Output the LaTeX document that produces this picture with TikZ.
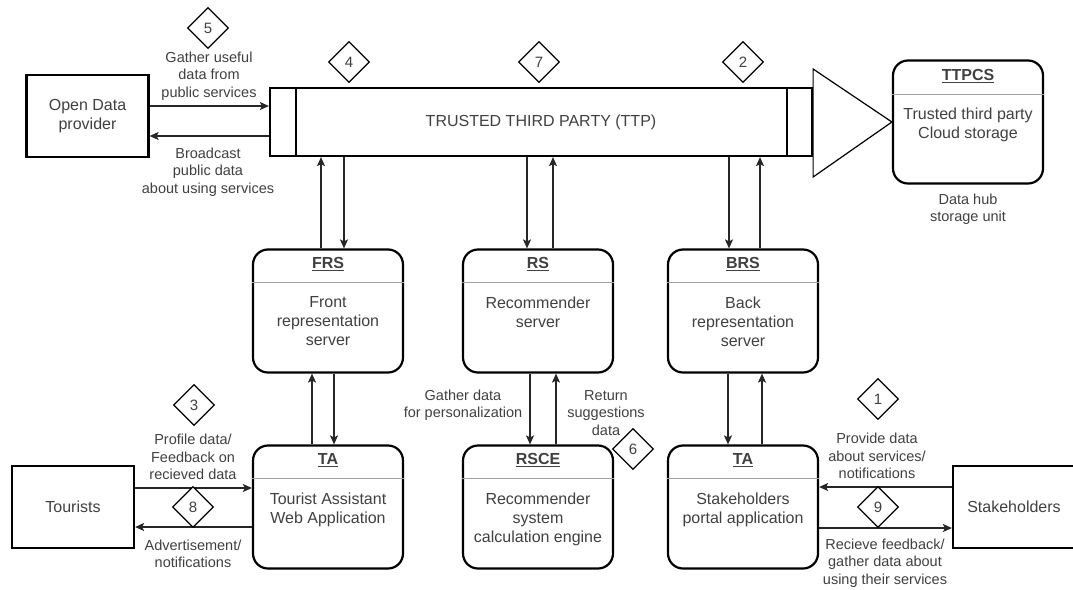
\documentclass[tikz,border=0pt]{standalone}
\usepackage{fontspec}
\setmainfont{Liberation Sans}
\usetikzlibrary{shapes,arrows.meta,positioning}
\definecolor{txtgray}{HTML}{404040}
\definecolor{sepgray}{HTML}{A0A0A0}

\begin{document}
\begin{tikzpicture}[x=1pt,y=-1pt,
  srv/.style={draw,line width=2.2pt,rounded corners=15pt,minimum width=150pt,minimum height=123pt,inner sep=0pt},
  ent/.style={draw,line width=2.2pt,minimum width=122pt,minimum height=82pt,align=center,text=txtgray,font=\fontsize{16}{19}\selectfont},
  ttl/.style={inner sep=0pt,text=txtgray,font=\fontsize{16}{19}\selectfont\bfseries},
  body/.style={anchor=north,inner sep=0pt,align=center,text=txtgray,font=\fontsize{16}{19}\selectfont},
  lbl/.style={inner sep=0pt,align=center,text=txtgray,font=\fontsize{14.5}{17.5}\selectfont},
  num/.style={draw,fill=white,diamond,aspect=1,minimum size=41pt,inner sep=0pt,line width=1.2pt,text=txtgray,font=\fontsize{15}{18}\selectfont},
  flow/.style={-{Stealth[length=9pt,width=8pt,inset=2pt]},line width=1.2pt,draw=black!85},
  sep/.style={draw=sepgray,line width=1pt}]

    \useasboundingbox (0,0) rectangle (1073,589);

    \node[draw,line width=2.2pt,minimum width=542pt,minimum height=68pt,text=txtgray,font=\fontsize{16}{19}\selectfont] (ttp) at (541,122) {TRUSTED THIRD PARTY (TTP)};
    \draw[line width=2.2pt] (296,0 |- ttp.north) -- (296,0 |- ttp.south);
    \draw[line width=2.2pt] (787,0 |- ttp.north) -- (787,0 |- ttp.south);

    \node[srv] (ttpcs) at (968,122) {};
    \node[ttl] at ([yshift=-17pt]ttpcs.north) {\underline{TTPCS}};
    \draw[sep] ([yshift=-35pt]ttpcs.north west) -- ([yshift=-35pt]ttpcs.north east);
    \node[body] (ttpcsb) at ([yshift=-48pt]ttpcs.north) {Trusted third party\\Cloud storage};
    \node[lbl] (hub) at (968,209) {Data hub\\storage unit};

    \draw[line width=1.2pt] (ttp.east |- 0,69) -- (ttpcs.west) -- (ttp.east |- 0,177) -- cycle;

    \node[ent] (odp) at (87.5,116) {Open Data\\provider};
    \node[ent] (tour) at (73,507) {Tourists};
    \node[ent] (stake) at (1014,507) {Stakeholders};

    \node[srv] (frs) at (328,311) {};
    \node[ttl] at ([yshift=-16pt]frs.north) {\underline{FRS}};
    \draw[sep] ([yshift=-34pt]frs.north west) -- ([yshift=-34pt]frs.north east);
    \node[body] (frsb) at ([yshift=-48pt]frs.north) {Front\\representation\\server};

    \node[srv] (rs) at (538,311) {};
    \node[ttl] at ([yshift=-16pt]rs.north) {\underline{RS}};
    \draw[sep] ([yshift=-34pt]rs.north west) -- ([yshift=-34pt]rs.north east);
    \node[body] (rsb) at ([yshift=-48pt]rs.north) {Recommender\\server};

    \node[srv] (brs) at (743,311) {};
    \node[ttl] at ([yshift=-16pt]brs.north) {\underline{BRS}};
    \draw[sep] ([yshift=-34pt]brs.north west) -- ([yshift=-34pt]brs.north east);
    \node[body] (brsb) at ([yshift=-48pt]brs.north) {Back\\representation\\server};

    \node[srv] (ta1) at (328,507) {};
    \node[ttl] at ([yshift=-16pt]ta1.north) {\underline{TA}};
    \draw[sep] ([yshift=-34pt]ta1.north west) -- ([yshift=-34pt]ta1.north east);
    \node[body] (ta1b) at ([yshift=-48pt]ta1.north) {Tourist Assistant\\Web Application};

    \node[srv] (rsce) at (538,507) {};
    \node[ttl] at ([yshift=-16pt]rsce.north) {\underline{RSCE}};
    \draw[sep] ([yshift=-34pt]rsce.north west) -- ([yshift=-34pt]rsce.north east);
    \node[body] (rsceb) at ([yshift=-48pt]rsce.north) {Recommender\\system\\calculation engine};

    \node[srv] (ta2) at (743,507) {};
    \node[ttl] at ([yshift=-16pt]ta2.north) {\underline{TA}};
    \draw[sep] ([yshift=-34pt]ta2.north west) -- ([yshift=-34pt]ta2.north east);
    \node[body] (ta2b) at ([yshift=-48pt]ta2.north) {Stakeholders\\portal application};

    \draw[flow] (odp.east |- 0,106) -- (ttp.west |- 0,106);
    \draw[flow] (ttp.west |- 0,136) -- (odp.east |- 0,136);
    \draw[flow] (tour.east |- 0,488) -- (ta1.west |- 0,488);
    \draw[flow] (ta1.west |- 0,527) -- (tour.east |- 0,527);
    \draw[flow] (stake.west |- 0,487) -- (ta2.east |- 0,487);
    \draw[flow] (ta2.east |- 0,528) -- (stake.west |- 0,528);

    \draw[flow] (321,0 |- frs.north) -- (321,0 |- ttp.south);
    \draw[flow] (344,0 |- ttp.south) -- (344,0 |- frs.north);
    \draw[flow] (527,0 |- ttp.south) -- (527,0 |- rs.north);
    \draw[flow] (553,0 |- rs.north) -- (553,0 |- ttp.south);
    \draw[flow] (729,0 |- ttp.south) -- (729,0 |- brs.north);
    \draw[flow] (760,0 |- brs.north) -- (760,0 |- ttp.south);

    \draw[flow] (312,0 |- ta1.north) -- (312,0 |- frs.south);
    \draw[flow] (334,0 |- frs.south) -- (334,0 |- ta1.north);
    \draw[flow] (530,0 |- rs.south) -- (530,0 |- rsce.north);
    \draw[flow] (556,0 |- rsce.north) -- (556,0 |- rs.south);
    \draw[flow] (728,0 |- brs.south) -- (728,0 |- ta2.north);
    \draw[flow] (762,0 |- ta2.north) -- (762,0 |- brs.south);

    \node[lbl] (gath) at (209,76) {Gather useful\\data from\\public services};
    \node[lbl] (bcast) at (208,172) {Broadcast\\public data\\about using services};
    \node[lbl] (prof) at (193,457) {Profile data/\\Feedback on\\recieved data};
    \node[lbl] (adv) at (193,554) {Advertisement/\\notifications};
    \node[lbl] (pers) at (463,405) {Gather data\\for personalization};
    \node[lbl] (ret) at (606,413) {Return\\suggestions\\data};
    \node[lbl] (prov) at (877,456) {Provide data\\about services/\\notifications};
    \node[lbl] (recv) at (885,563) {Recieve feedback/\\gather data about\\using their services};

    \node[num] (n5) at (208,28) {5};
    \node[num] (n4) at (349,62) {4};
    \node[num] (n7) at (539,62) {7};
    \node[num] (n2) at (743,62) {2};
    \node[num] (n3) at (194,405) {3};
    \node[num] (n8) at (193,507) {8};
    \node[num] (n6) at (633,449) {6};
    \node[num] (n1) at (878,399) {1};
    \node[num] (n9) at (878,507) {9};

\end{tikzpicture}
\end{document}
